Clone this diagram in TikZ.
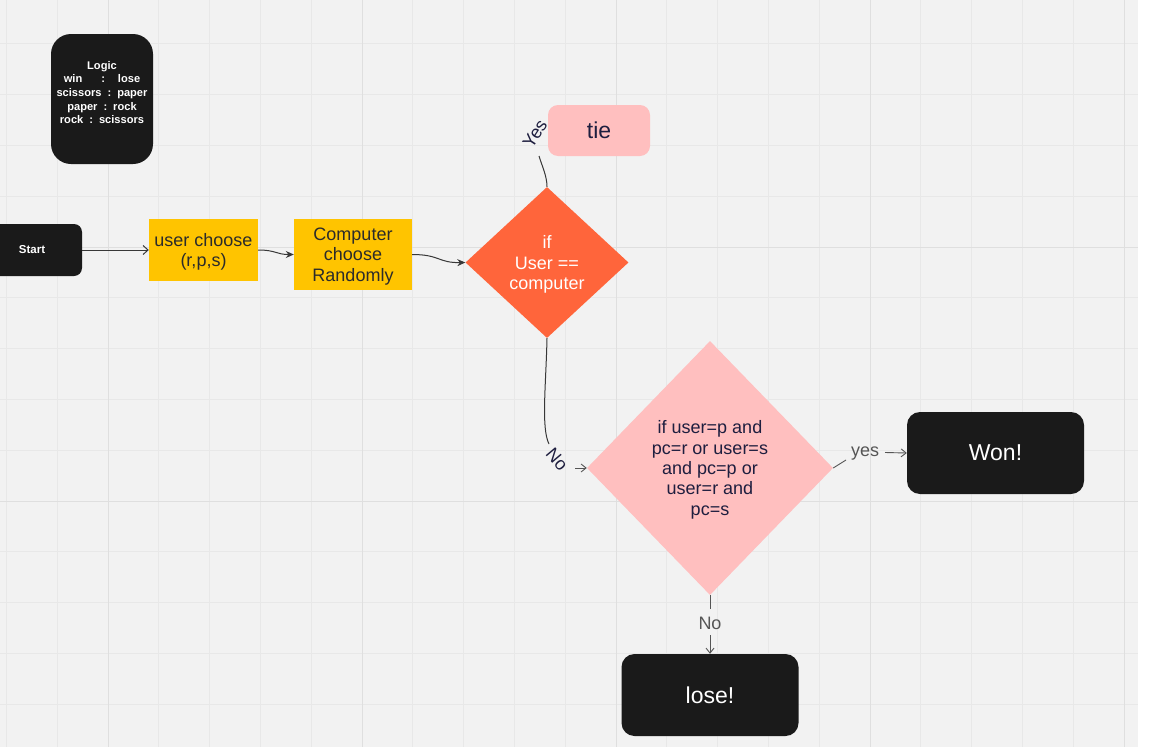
\documentclass[tikz,border=0pt]{standalone}
\usepackage{fontspec}
\setmainfont{Liberation Sans}
\usetikzlibrary{shapes.geometric,arrows.meta}
\definecolor{bgc}{HTML}{F2F2F2}
\definecolor{gridminor}{HTML}{E8E8E8}
\definecolor{gridmajor}{HTML}{DFDFDF}
\definecolor{boxblack}{HTML}{1A1A1A}
\definecolor{yel}{HTML}{FFC400}
\definecolor{orng}{HTML}{FF653B}
\definecolor{pinkc}{HTML}{FFBFBF}
\definecolor{navy}{HTML}{1E1E3F}
\definecolor{txtdark}{HTML}{2B2B2B}
\definecolor{lbl}{HTML}{555555}
\definecolor{lineg}{HTML}{383838}
\begin{document}
\begin{tikzpicture}[x=1pt,y=-1pt,
  blk/.style={fill=boxblack,text=white,inner sep=0pt,align=center},
  yelbox/.style={fill=yel,text=txtdark,inner sep=0pt,align=center,text depth=0pt,font=\fontsize{18}{20.5}\selectfont},
  dia/.style={diamond,inner sep=0pt,align=center,aspect=1,text depth=0pt,font=\fontsize{18}{20.4}\selectfont},
  conn/.style={draw=lineg,line width=1pt},
  fillarr/.style={conn,-{Stealth[length=8pt,width=7pt]}},
  openarr/.style={conn,-{Straight Barb[length=5pt,width=9pt]}},
  lblarr/.style={draw=lbl,line width=0.9pt,-{Straight Barb[length=5pt,width=8pt]}},
  lbltext/.style={text=lbl,inner sep=0pt,font=\fontsize{18}{20}\selectfont},
  navylbl/.style={text=navy,inner sep=0pt,font=\fontsize{18}{20}\selectfont},
]
\useasboundingbox (0,0) rectangle (1152,747);
\fill[white] (0,0) rectangle (1152,747);
\fill[bgc] (0,0) rectangle (1138,747);
\begin{scope}
\clip (0,0) rectangle (1138,747);
\foreach \i in {0,...,22} \draw[gridminor,line width=0.7pt] ({6.4+50.8*\i},0) -- ({6.4+50.8*\i},747);
\foreach \j in {1,...,14} \draw[gridminor,line width=0.7pt] (0,{-7+50.8*\j}) -- (1138,{-7+50.8*\j});
\foreach \i in {2,7,12,17,22} \draw[gridmajor,line width=1pt] ({6.4+50.8*\i},0) -- ({6.4+50.8*\i},747);
\foreach \j in {5,10} \draw[gridmajor,line width=1pt] (0,{-7+50.8*\j}) -- (1138,{-7+50.8*\j});
\end{scope}

% nodes
\node[blk,rounded corners=20pt,minimum width=102pt,minimum height=130pt] (logic) at (102,99) {};
\node[text=white,align=center,inner sep=0pt,font=\fontsize{11.1}{13.7}\selectfont\bfseries] (logictext) at (102,92.5)
  {Logic\\win\hspace{19pt}:\hspace{13pt}lose\\scissors\hspace{6pt}:\hspace{6pt}paper\\paper\hspace{6pt}:\hspace{6pt}rock\\rock\hspace{6pt}:\hspace{6pt}scissors};
\node[blk,rounded corners=8pt,minimum width=100pt,minimum height=52pt,font=\fontsize{11.5}{13}\selectfont\bfseries] (start) at (32,250) {Start};
\node[yelbox,minimum width=109pt,minimum height=62pt] (user) at (203.5,250) {user choose\\(r,p,s)};
\node[yelbox,minimum width=118pt,minimum height=71pt] (comp) at (353,254.5) {Computer\\choose\\Randomly};
\node[dia,fill=orng,text=white,minimum width=163pt,minimum height=151pt] (d1) at (547,262.5) {if\\User ==\\computer};
\node[fill=pinkc,rounded corners=10pt,minimum width=102pt,minimum height=51pt,text=navy,inner sep=0pt,font=\fontsize{23}{26}\selectfont] (tie) at (599,130.5) {tie};
\node[dia,fill=pinkc,text=navy,minimum width=246pt,minimum height=254pt] (d2) at (710,468) {if user=p and\\pc=r or user=s\\and pc=p or\\user=r and\\pc=s};
\node[blk,rounded corners=13pt,minimum width=177pt,minimum height=82pt,font=\fontsize{23}{26}\selectfont] (won) at (995.5,453) {Won!};
\node[blk,rounded corners=13pt,minimum width=177pt,minimum height=82pt,font=\fontsize{23}{26}\selectfont] (lose) at (710,695) {lose!};

% connectors
\draw[openarr] (start.east) -- (user.west);
\draw[fillarr] (user.east) .. controls (276,250) and (276,254.5) .. (comp.west);
\draw[fillarr] (comp.east) .. controls (440,254.5) and (438,263) .. (d1.west);

\coordinate (yesA) at (539,156);
\draw[conn] (d1.north) .. controls (547,176) and (542,166) .. (yesA);
\node[navylbl,rotate=57] (yeslbl) at (535,134) {Yes};

\coordinate (noA) at (549,444);
\draw[conn] (d1.south) .. controls (546,385) and (541,428) .. (noA);
\node[navylbl,rotate=-50] (nolbl) at (557,459) {No};
\coordinate (noB) at (575,468);
\draw[lblarr] (noB) -- (d2.west);

\coordinate (yesB) at (846,460);
\draw[lblarr,-] (d2.east) -- (yesB);
\node[lbltext] (yeslbl2) at (865,454) {yes};
\coordinate (yesC) at (885,452.5);
\draw[lblarr] (yesC) -- (won.west);

\coordinate (noC) at (710,609);
\draw[lblarr,-] (d2.south) -- (noC);
\node[lbltext] (nolbl2) at (710,623) {No};
\coordinate (noD) at (710,635);
\draw[lblarr] (noD) -- (lose.north);
\end{tikzpicture}
\end{document}
